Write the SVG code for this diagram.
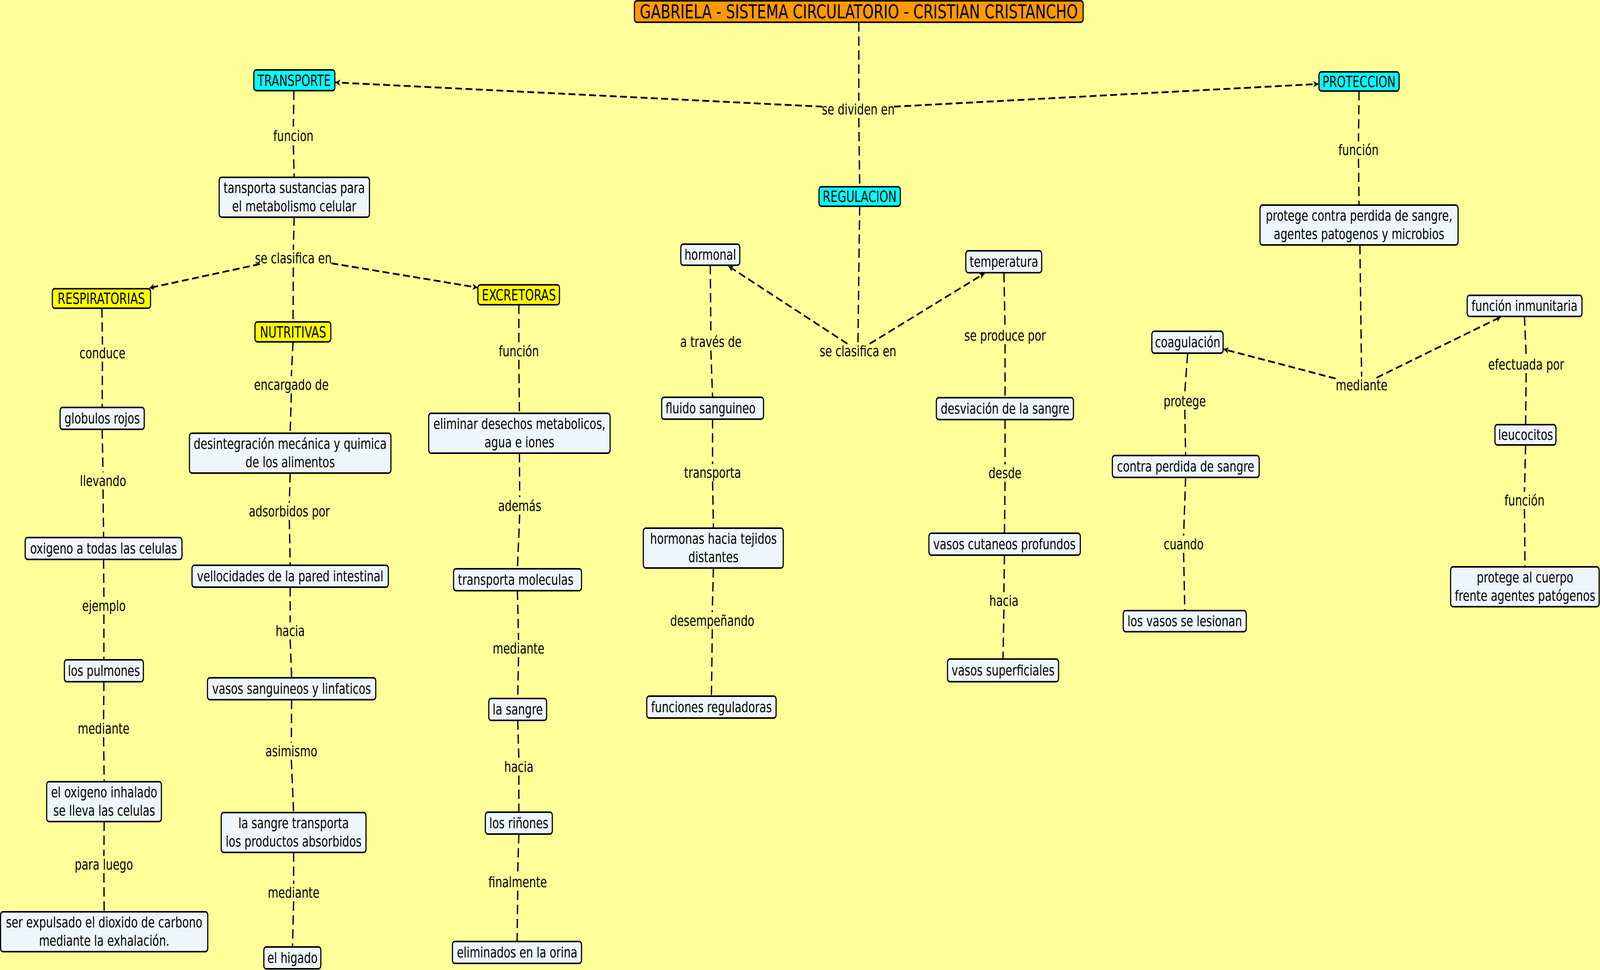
<svg xmlns="http://www.w3.org/2000/svg" width="5591" height="2483" viewBox="0 0 5591 2483" preserveAspectRatio="none" style="width:100vw;height:100vh;background:#FFFF99">
<style>
.n{fill:#EEF5FB;stroke:#000;stroke-width:4}
.cy{fill:#00FFFF;stroke:#000;stroke-width:4}
.ye{fill:#FFFF00;stroke:#000;stroke-width:4}
.or{fill:#FF9900;stroke:#000;stroke-width:4}
text{font-family:"DejaVu Sans",Verdana,sans-serif;font-size:38px;text-anchor:middle;fill:#000}
.up{font-size:39px}
.ti{font-size:50px}
.l{fill:none;stroke:#000;stroke-width:4.5;stroke-dasharray:24 12}
</style>
<defs>
<marker id="a" markerUnits="userSpaceOnUse" viewBox="0 0 18 16" refX="17" refY="8" markerWidth="18" markerHeight="16" orient="auto">
<path d="M0,0 L18,8 L0,16 L5,8 Z" fill="#000"/>
</marker>
</defs>
<rect width="5591" height="2483" fill="#FFFF99"/>
<g id="connectors">
<path class="l" d="M3001,57 L3001,258"/>
<path class="l" d="M2874,273 L1172,211" marker-end="url(#a)"/>
<path class="l" d="M3124,273 L4606,215" marker-end="url(#a)"/>
<path class="l" d="M3001,302 L3004,478"/>
<path class="l" d="M1027,232 L1025,324"/>
<path class="l" d="M1025,372 L1028,455"/>
<path class="l" d="M1028,554 L1025,640"/>
<path class="l" d="M908,676 L522,737" marker-end="url(#a)"/>
<path class="l" d="M1158,674 L1668,736" marker-end="url(#a)"/>
<path class="l" d="M1025,685 L1024,824"/>
<path class="l" d="M356,789 L358,882"/>
<path class="l" d="M358,926 L357,1043"/>
<path class="l" d="M357,1099 L360,1209"/>
<path class="l" d="M360,1253 L362,1376"/>
<path class="l" d="M362,1432 L363,1529"/>
<path class="l" d="M363,1573 L363,1689"/>
<path class="l" d="M363,1745 L362,1843"/>
<path class="l" d="M362,1887 L364,2001"/>
<path class="l" d="M364,2103 L363,2191"/>
<path class="l" d="M363,2235 L364,2334"/>
<path class="l" d="M1024,875 L1018,963"/>
<path class="l" d="M1018,1007 L1014,1109"/>
<path class="l" d="M1014,1211 L1011,1287"/>
<path class="l" d="M1011,1331 L1014,1447"/>
<path class="l" d="M1014,1503 L1014,1593"/>
<path class="l" d="M1014,1637 L1019,1735"/>
<path class="l" d="M1019,1791 L1018,1901"/>
<path class="l" d="M1018,1945 L1026,2080"/>
<path class="l" d="M1026,2182 L1026,2263"/>
<path class="l" d="M1026,2307 L1022,2424"/>
<path class="l" d="M1813,780 L1813,877"/>
<path class="l" d="M1813,921 L1815,1058"/>
<path class="l" d="M1815,1160 L1816,1273"/>
<path class="l" d="M1816,1317 L1808,1456"/>
<path class="l" d="M1808,1512 L1812,1638"/>
<path class="l" d="M1812,1682 L1809,1788"/>
<path class="l" d="M1809,1844 L1813,1941"/>
<path class="l" d="M1813,1985 L1813,2079"/>
<path class="l" d="M1813,2135 L1809,2236"/>
<path class="l" d="M1809,2280 L1807,2410"/>
<path class="l" d="M3004,528 L2998,877"/>
<path class="l" d="M2961,880 L2545,681" marker-end="url(#a)"/>
<path class="l" d="M3039,880 L3440,700" marker-end="url(#a)"/>
<path class="l" d="M2482,678 L2484,853"/>
<path class="l" d="M2484,897 L2490,1017"/>
<path class="l" d="M2490,1073 L2490,1188"/>
<path class="l" d="M2490,1232 L2493,1352"/>
<path class="l" d="M2493,1454 L2489,1567"/>
<path class="l" d="M2489,1611 L2486,1782"/>
<path class="l" d="M3508,699 L3512,837"/>
<path class="l" d="M3512,881 L3512,1018"/>
<path class="l" d="M3512,1074 L3512,1189"/>
<path class="l" d="M3512,1233 L3510,1365"/>
<path class="l" d="M3510,1421 L3508,1516"/>
<path class="l" d="M3508,1560 L3505,1685"/>
<path class="l" d="M4749,233 L4747,362"/>
<path class="l" d="M4747,406 L4749,525"/>
<path class="l" d="M4752,627 L4758,964"/>
<path class="l" d="M4667,969 L4276,894" marker-end="url(#a)"/>
<path class="l" d="M4810,967 L5245,811" marker-end="url(#a)"/>
<path class="l" d="M4150,906 L4140,1005"/>
<path class="l" d="M4140,1049 L4143,1166"/>
<path class="l" d="M4143,1222 L4136,1371"/>
<path class="l" d="M4136,1415 L4140,1562"/>
<path class="l" d="M5327,810 L5333,911"/>
<path class="l" d="M5333,955 L5331,1087"/>
<path class="l" d="M5331,1139 L5327,1259"/>
<path class="l" d="M5327,1303 L5329,1451"/>
</g>
<g id="labels">
<text x="2999" y="293">se dividen en</text>
<text x="1025" y="361">funcion</text>
<text x="1025" y="674">se clasifica en</text>
<text x="358" y="917">conduce</text>
<text x="360" y="1244">llevando</text>
<text x="363" y="1564">ejemplo</text>
<text x="362" y="1878">mediante</text>
<text x="363" y="2226">para luego</text>
<text x="1018" y="998">encargado de</text>
<text x="1011" y="1322">adsorbidos por</text>
<text x="1014" y="1628">hacia</text>
<text x="1018" y="1936">asimismo</text>
<text x="1026" y="2298">mediante</text>
<text x="1813" y="912">función</text>
<text x="1816" y="1308">además</text>
<text x="1812" y="1673">mediante</text>
<text x="1813" y="1976">hacia</text>
<text x="1809" y="2271">finalmente</text>
<text x="2998" y="912">se clasifica en</text>
<text x="2484" y="888">a través de</text>
<text x="2490" y="1223">transporta</text>
<text x="2489" y="1602">desempeñando</text>
<text x="3512" y="872">se produce por</text>
<text x="3512" y="1224">desde</text>
<text x="3508" y="1551">hacia</text>
<text x="4747" y="397">función</text>
<text x="4758" y="999">mediante</text>
<text x="4140" y="1040">protege</text>
<text x="4136" y="1406">cuando</text>
<text x="5333" y="946">efectuada por</text>
<text x="5327" y="1294">función</text>
</g>
<g id="n-title"><rect class="or" x="2217" y="2" width="1568" height="55" rx="8"/><text class="ti" x="3001" y="47">GABRIELA - SISTEMA CIRCULATORIO - CRISTIAN CRISTANCHO</text></g>
<g id="n-transporte"><rect class="cy" x="887" y="179" width="283" height="53" rx="8"/><text class="up" x="1028" y="220">TRANSPORTE</text></g>
<g id="n-proteccion"><rect class="cy" x="4609" y="184" width="280" height="49" rx="8"/><text class="up" x="4749" y="223">PROTECCION</text></g>
<g id="n-regulacion"><rect class="cy" x="2862" y="478" width="284" height="50" rx="8"/><text class="up" x="3004" y="517">REGULACION</text></g>
<g id="n-respiratorias"><rect class="ye" x="183" y="739" width="343" height="50" rx="8"/><text class="up" x="354" y="778">RESPIRATORIAS</text></g>
<g id="n-nutritivas"><rect class="ye" x="891" y="824" width="265" height="51" rx="8"/><text class="up" x="1024" y="864">NUTRITIVAS</text></g>
<g id="n-excretoras"><rect class="ye" x="1670" y="729" width="285" height="51" rx="8"/><text class="up" x="1813" y="769">EXCRETORAS</text></g>
<g id="n-tansporta"><rect class="n" x="766" y="454" width="525" height="102" rx="8"/><text x="1028" y="494.5">tansporta sustancias para</text><text x="1028" y="541.5">el metabolismo celular</text></g>
<g id="n-globulos"><rect class="n" x="210" y="1043" width="294" height="56" rx="8"/><text x="357" y="1084">globulos rojos</text></g>
<g id="n-oxigeno"><rect class="n" x="88" y="1376" width="548" height="56" rx="8"/><text x="362" y="1417">oxigeno a todas las celulas</text></g>
<g id="n-pulmones"><rect class="n" x="225" y="1689" width="276" height="56" rx="8"/><text x="363" y="1730">los pulmones</text></g>
<g id="n-inhalado"><rect class="n" x="163" y="2001" width="401" height="102" rx="8"/><text x="364" y="2041.5">el oxigeno inhalado</text><text x="364" y="2088.5">se lleva las celulas</text></g>
<g id="n-expulsado"><rect class="n" x="2" y="2334" width="724" height="102" rx="8"/><text x="364" y="2374.5">ser expulsado el dioxido de carbono</text><text x="364" y="2421.5">mediante la exhalación.</text></g>
<g id="n-desintegracion"><rect class="n" x="662" y="1109" width="704" height="102" rx="8"/><text x="1014" y="1149.5">desintegración mecánica y quimica</text><text x="1014" y="1196.5">de los alimentos</text></g>
<g id="n-vellocidades"><rect class="n" x="671" y="1447" width="686" height="56" rx="8"/><text x="1014" y="1488">vellocidades de la pared intestinal</text></g>
<g id="n-vasos-sang"><rect class="n" x="725" y="1735" width="588" height="56" rx="8"/><text x="1019" y="1776">vasos sanguineos y linfaticos</text></g>
<g id="n-sangre-transp"><rect class="n" x="773" y="2080" width="506" height="102" rx="8"/><text x="1026" y="2120.5">la sangre transporta</text><text x="1026" y="2167.5">los productos absorbidos</text></g>
<g id="n-higado"><rect class="n" x="922" y="2424" width="199" height="56" rx="8"/><text x="1022" y="2465">el higado</text></g>
<g id="n-eliminar"><rect class="n" x="1498" y="1058" width="634" height="102" rx="8"/><text x="1815" y="1098.5">eliminar desechos metabolicos,</text><text x="1815" y="1145.5">agua e iones</text></g>
<g id="n-moleculas"><rect class="n" x="1585" y="1456" width="447" height="56" rx="8"/><text x="1802" y="1497">transporta moleculas</text></g>
<g id="n-lasangre"><rect class="n" x="1708" y="1788" width="202" height="56" rx="8"/><text x="1809" y="1829">la sangre</text></g>
<g id="n-rinones"><rect class="n" x="1696" y="2079" width="234" height="56" rx="8"/><text x="1813" y="2120">los riñones</text></g>
<g id="n-orina"><rect class="n" x="1581" y="2410" width="451" height="56" rx="8"/><text x="1807" y="2451">eliminados en la orina</text></g>
<g id="n-hormonal"><rect class="n" x="2379" y="625" width="206" height="54" rx="8"/><text x="2482" y="665">hormonal</text></g>
<g id="n-fluido"><rect class="n" x="2312" y="1017" width="356" height="56" rx="8"/><text x="2483" y="1058">fluido sanguineo</text></g>
<g id="n-hormonas"><rect class="n" x="2248" y="1352" width="489" height="102" rx="8"/><text x="2493" y="1392.5">hormonas hacia tejidos</text><text x="2493" y="1439.5">distantes</text></g>
<g id="n-funciones"><rect class="n" x="2260" y="1782" width="452" height="56" rx="8"/><text x="2486" y="1823">funciones reguladoras</text></g>
<g id="n-temperatura"><rect class="n" x="3375" y="642" width="265" height="56" rx="8"/><text x="3508" y="683">temperatura</text></g>
<g id="n-desviacion"><rect class="n" x="3272" y="1018" width="479" height="56" rx="8"/><text x="3512" y="1059">desviación de la sangre</text></g>
<g id="n-cutaneos"><rect class="n" x="3246" y="1365" width="529" height="56" rx="8"/><text x="3510" y="1406">vasos cutaneos profundos</text></g>
<g id="n-superficiales"><rect class="n" x="3311" y="1687" width="388" height="58" rx="8"/><text x="3505" y="1729">vasos superficiales</text></g>
<g id="n-protege"><rect class="n" x="4403" y="525" width="692" height="102" rx="8"/><text x="4749" y="565.5">protege contra perdida de sangre,</text><text x="4749" y="612.5">agentes patogenos y microbios</text></g>
<g id="n-coagulacion"><rect class="n" x="4025" y="848" width="249" height="56" rx="8"/><text x="4150" y="889">coagulación</text></g>
<g id="n-contra"><rect class="n" x="3887" y="1166" width="513" height="56" rx="8"/><text x="4143" y="1207">contra perdida de sangre</text></g>
<g id="n-lesionan"><rect class="n" x="3925" y="1563" width="430" height="54" rx="8"/><text x="4140" y="1603">los vasos se lesionan</text></g>
<g id="n-inmunitaria"><rect class="n" x="5127" y="756" width="401" height="54" rx="8"/><text x="5327" y="796">función inmunitaria</text></g>
<g id="n-leucocitos"><rect class="n" x="5224" y="1087" width="213" height="52" rx="8"/><text x="5331" y="1126">leucocitos</text></g>
<g id="n-cuerpo"><rect class="n" x="5069" y="1451" width="519" height="102" rx="8"/><text x="5329" y="1491.5">protege al cuerpo</text><text x="5329" y="1538.5">frente agentes patógenos</text></g>
</svg>
